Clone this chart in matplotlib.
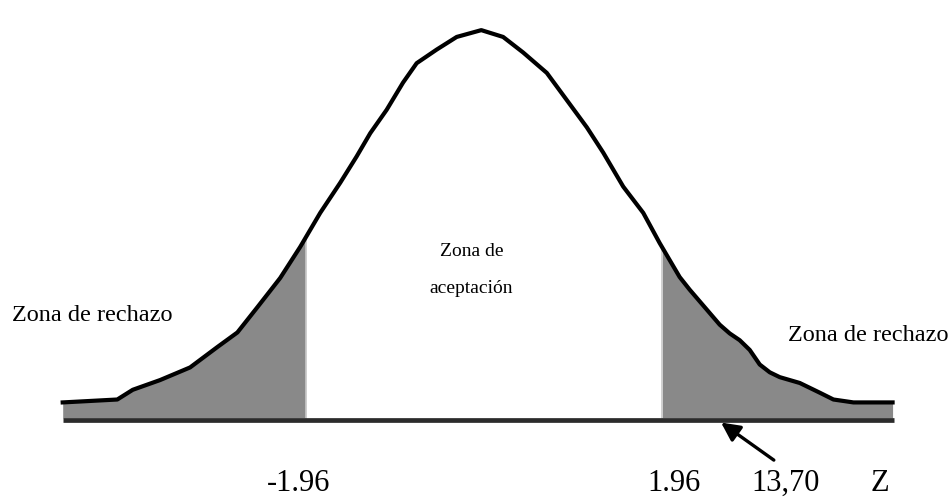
import numpy as np
import matplotlib.pyplot as plt

plt.rcParams['font.family'] = ['Liberation Serif', 'DejaVu Serif']

# curve: z value and height (density units)
z = [-4.63, -4.03, -3.86, -3.56, -3.23, -2.93, -2.71, -2.49, -2.24, -2.02,
     -1.80, -1.58, -1.40, -1.25, -1.07, -0.89, -0.74, -0.52, -0.30, -0.03,
     0.21, 0.43, 0.69, 0.91, 1.13, 1.31, 1.53, 1.75, 1.93, 2.15,
     2.26, 2.37, 2.48, 2.59, 2.70, 2.81, 2.92, 3.03, 3.14, 3.25,
     3.47, 3.69, 3.84, 4.06, 4.49]
dens = [0.016, 0.019, 0.029, 0.039, 0.052, 0.073, 0.088, 0.114, 0.144, 0.176,
        0.211, 0.242, 0.269, 0.293, 0.317, 0.345, 0.365, 0.379, 0.392, 0.399,
        0.392, 0.376, 0.355, 0.327, 0.299, 0.273, 0.238, 0.211, 0.180, 0.145,
        0.132, 0.120, 0.108, 0.096, 0.087, 0.080, 0.070, 0.055, 0.047, 0.042,
        0.036, 0.026, 0.019, 0.016, 0.016]

z_crit = [-1.96, 1.96]
z_obs = 13.70
tick_labels = ['-1.96', '1.96', '13,70', 'Z']

z = np.array(z)
dens = np.array(dens)

fig = plt.figure(figsize=(9.5, 4.97), dpi=100)
ax = fig.add_axes([0, 0, 1, 1])
ax.set_xlim(-5.319, 5.121)
ax.set_ylim(-0.0813, 0.430)
ax.axis('off')

# shaded rejection zones
zl = np.linspace(z[0], z_crit[0], 200)
ax.fill_between(zl, 0, np.interp(zl, z, dens), color='#898989', lw=0)
zr = np.linspace(z_crit[1], z[-1], 200)
ax.fill_between(zr, 0, np.interp(zr, z, dens), color='#898989', lw=0)
for zc in z_crit:
    ax.plot([zc, zc], [0, np.interp(zc, z, dens)], color='#c8c8c8', lw=1.2)

# curve and baseline
ax.plot(z, dens, color='black', lw=3, solid_joinstyle='round')
ax.plot([z[0], z[-1] + 0.02], [-0.002, -0.002], color='#2b2b2b', lw=3.4,
        solid_capstyle='butt')

# arrow pointing to the observed value
ax.annotate('', xy=(2.58, -0.003), xytext=(3.21, -0.045),
            arrowprops=dict(arrowstyle='-|>', color='black', lw=2.4,
                            mutation_scale=28))

# labels
ax.text(-5.19, 0.105, 'Zona de rechazo', fontsize=17.5, ha='left', va='center')
ax.text(3.34, 0.085, 'Zona de rechazo', fontsize=17.5, ha='left', va='center')
ax.text(-0.14, 0.171, 'Zona de', fontsize=14, ha='center', va='center')
ax.text(-0.14, 0.133, 'aceptación', fontsize=14, ha='center', va='center')

label_x = [-2.04, 2.09, 3.31, 4.35]
for lx, lab in zip(label_x, tick_labels):
    ax.text(lx, -0.067, lab, fontsize=22, ha='center', va='center')

fig.savefig('out.png', dpi=100)
